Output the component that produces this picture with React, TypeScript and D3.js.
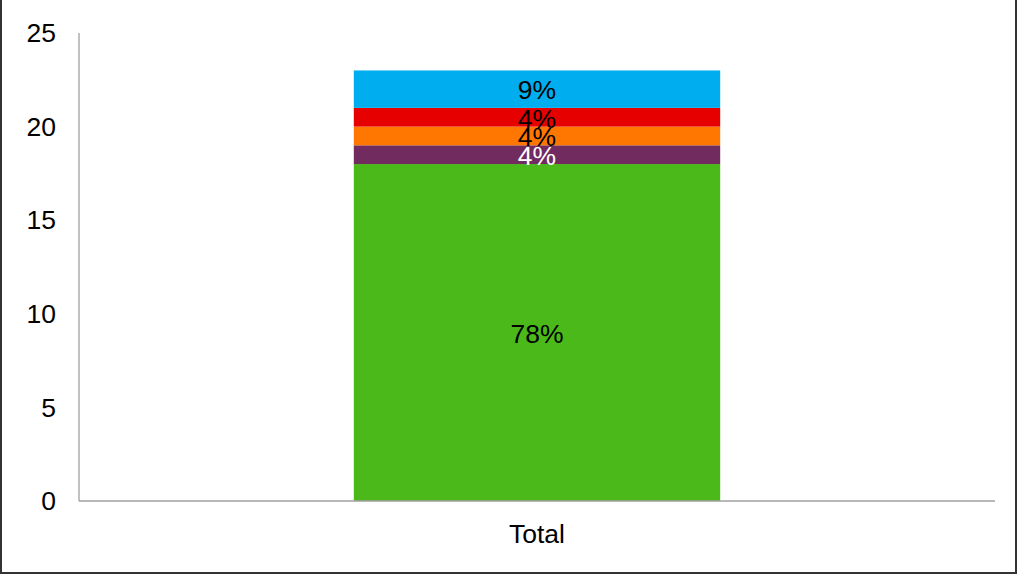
import React from "react";
import * as d3 from "d3";

const categories = ["Total"];
const seriesNames = ["A", "B", "C", "D", "E"];
const seriesValues = [18, 1, 1, 1, 2];
const seriesLabels = ["78%", "4%", "4%", "4%", "9%"];
const seriesColors = ["#4CB91B", "#722B5F", "#FF7700", "#E60000", "#00AEEF"];
const labelColors = ["#000000", "#FFFFFF", "#000000", "#000000", "#000000"];
const yTicks = [0, 5, 10, 15, 20, 25];

const W = 1017;
const H = 574;
const left = 79;
const right = 995;
const top = 33;
const bottom = 501;
const FONT = "'Liberation Sans', Arial, sans-serif";
const FS = 26.5;

export default function App() {
  const x = d3.scaleBand<string>().domain(categories).range([left, right]).paddingInner(0).paddingOuter(0.75);
  const y = d3.scaleLinear().domain([0, 25]).range([bottom, top]);

  const row: any = { cat: categories[0] };
  seriesNames.forEach((s, i) => (row[s] = seriesValues[i]));
  const stack = d3.stack<any>().keys(seriesNames)([row]);

  return (
    <svg width={W} height={H} style={{ position: "absolute", left: 0, top: 0, background: "#fff" }}>
      <rect x={0} y={0} width={W} height={H} fill="#fff" />
      {stack.map((layer, i) =>
        layer.map((d, j) => {
          const x0 = x(categories[j])!;
          const y0 = y(d[1]);
          const y1 = y(d[0]);
          return (
            <g key={`${i}-${j}`}>
              <rect x={x0} y={y0} width={x.bandwidth()} height={y1 - y0} fill={seriesColors[i]} />
            </g>
          );
        })
      )}
      {stack.map((layer, i) =>
        layer.map((d, j) => (
          <text
            key={`t${i}-${j}`}
            x={x(categories[j])! + x.bandwidth() / 2}
            y={(y(d[0]) + y(d[1])) / 2 + 1}
            dy="0.35em"
            textAnchor="middle"
            fontFamily={FONT}
            fontSize={FS}
            fill={labelColors[i]}
          >
            {seriesLabels[i]}
          </text>
        ))
      )}
      <line x1={left} x2={left} y1={top} y2={bottom} stroke="#A0A0A0" strokeWidth={1.3} />
      <line x1={left} x2={right} y1={bottom} y2={bottom} stroke="#A0A0A0" strokeWidth={1.3} />
      {yTicks.map((t) => (
        <text key={t} x={56} y={y(t)} dy="0.35em" textAnchor="end" fontFamily={FONT} fontSize={FS} fill="#000">
          {t}
        </text>
      ))}
      {categories.map((c) => (
        <text key={c} x={x(c)! + x.bandwidth() / 2} y={534} dy="0.35em" textAnchor="middle" fontFamily={FONT} fontSize={FS} fill="#000">
          {c}
        </text>
      ))}
      <line x1={1} x2={1} y1={0} y2={573} stroke="#333" strokeWidth={2} />
      <line x1={1016} x2={1016} y1={0} y2={573} stroke="#333" strokeWidth={2} />
      <line x1={0} x2={1017} y1={573} y2={573} stroke="#333" strokeWidth={2} />
    </svg>
  );
}
